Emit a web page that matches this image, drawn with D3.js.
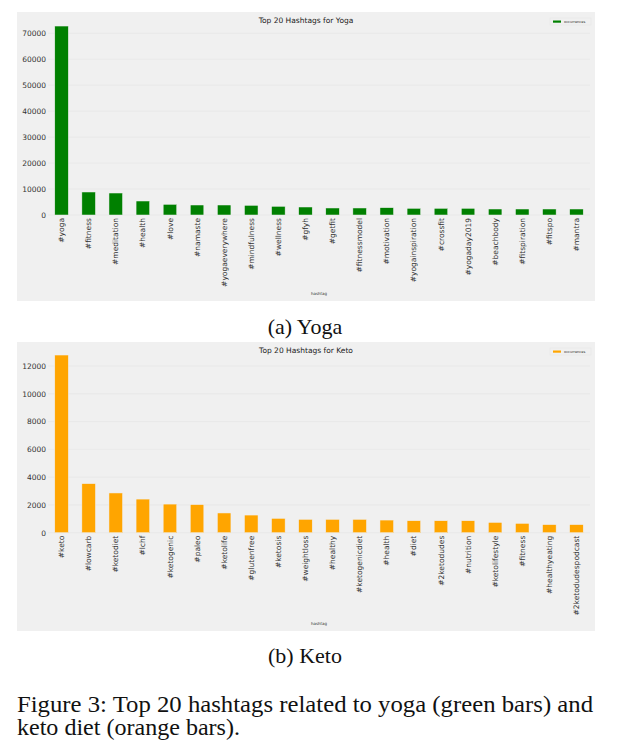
<!DOCTYPE html>
<html>
<head>
<meta charset="utf-8">
<script src="https://cdn.jsdelivr.net/npm/d3@7"></script>
<style>
  body { margin: 0; background: #fff; }
  svg text { font-family: "DejaVu Sans", sans-serif; }
  .cap { font-family: "Liberation Serif", "Times New Roman", serif; fill: #111; }
</style>
</head>
<body>
<div id="chart"></div>
<script>
// yoga hashtags
var yogaTags = ['#yoga', '#fitness', '#meditation', '#health', '#love', '#namaste',
  '#yogaeverywhere', '#mindfulness', '#wellness', '#gfyh', '#getfit', '#fitnessmodel',
  '#motivation', '#yogainspiration', '#crossfit', '#yogaday2019', '#beachbody',
  '#fitspiration', '#fitspo', '#mantra'];
var yogaCounts = [72800, 8860, 8470, 5390, 4110, 3850, 3850, 3720, 3340, 3080, 2700,
  2700, 2820, 2570, 2570, 2570, 2310, 2310, 2310, 2310];
var yogaTicks = [0, 10000, 20000, 30000, 40000, 50000, 60000, 70000];

// keto hashtags
var ketoTags = ['#keto', '#lowcarb', '#ketodiet', '#lchf', '#ketogenic', '#paleo',
  '#ketolife', '#glutenfree', '#ketosis', '#weightloss', '#healthy', '#ketogenicdiet',
  '#health', '#diet', '#2ketodudes', '#nutrition', '#ketolifestyle', '#fitness',
  '#healthyeating', '#2ketodudespodcast'];
var ketoCounts = [12790, 3530, 2860, 2420, 2060, 2020, 1420, 1270, 1030, 960, 960, 960,
  910, 860, 860, 860, 740, 670, 580, 580];
var ketoTicks = [0, 2000, 4000, 6000, 8000, 10000, 12000];

var W = 624, H = 742;

var svg = d3.select("#chart").append("svg")
    .attr("width", W)
    .attr("height", H);

function drawPanel(opts) {
  var g = svg.append("g");

  // gray figure background
  g.append("rect")
    .attr("x", 17).attr("y", opts.top)
    .attr("width", 578).attr("height", opts.bottom - opts.top)
    .attr("fill", "#f0f0f0");

  var x = d3.scaleBand()
    .domain(opts.tags)
    .range([48, 590])
    .paddingInner(0.5)
    .paddingOuter(0.25);

  var y = d3.scaleLinear()
    .domain([0, opts.ticks[opts.ticks.length - 1]])
    .range([opts.zero, opts.topTick]);

  // faint grid
  g.selectAll(".grid")
    .data(opts.ticks)
    .enter().append("line")
    .attr("x1", 48).attr("x2", 590)
    .attr("y1", function (d) { return y(d); })
    .attr("y2", function (d) { return y(d); })
    .attr("stroke", "#e4e4e4")
    .attr("stroke-width", 0.6);

  g.selectAll(".bar")
    .data(opts.counts)
    .enter().append("rect")
    .attr("x", function (d, i) { return x(opts.tags[i]); })
    .attr("width", x.bandwidth())
    .attr("y", function (d) { return y(d); })
    .attr("height", function (d) { return y(0) - y(d); })
    .attr("fill", opts.color)
    .attr("stroke", "#f0f0f0")
    .attr("stroke-width", 0.5);

  var yAxis = g.append("g")
    .attr("transform", "translate(48,0)")
    .call(d3.axisLeft(y).tickValues(opts.ticks).tickSize(0).tickPadding(2).tickFormat(d3.format("d")));
  yAxis.select(".domain").remove();
  yAxis.selectAll("text")
    .attr("font-family", "DejaVu Sans")
    .attr("font-size", 7.5)
    .attr("fill", "#333");

  var xAxis = g.append("g")
    .attr("transform", "translate(0," + opts.zero + ")")
    .call(d3.axisBottom(x).tickSize(0).tickPadding(0));
  xAxis.select(".domain").remove();
  xAxis.selectAll("text")
    .attr("font-family", "DejaVu Sans")
    .attr("font-size", 7.5)
    .attr("fill", "#333")
    .attr("transform", "rotate(-90)")
    .attr("x", -3)
    .attr("y", 0)
    .attr("dy", "0.35em")
    .style("text-anchor", "end");

  // title
  g.append("text")
    .attr("x", 306).attr("y", opts.top + 11)
    .attr("text-anchor", "middle")
    .attr("font-size", 7.5)
    .attr("fill", "#222")
    .text(opts.title);

  // legend
  g.append("rect")
    .attr("x", 550).attr("y", opts.top + 6)
    .attr("width", 41).attr("height", 7)
    .attr("fill", "#f0f0f0")
    .attr("stroke", "#e2e2e2")
    .attr("stroke-width", 0.4);
  g.append("rect")
    .attr("x", 553).attr("y", opts.top + 8.5)
    .attr("width", 8).attr("height", 2.2)
    .attr("fill", opts.color);
  g.append("text")
    .attr("x", 564).attr("y", opts.top + 11)
    .attr("font-size", 3.5)
    .attr("fill", "#333")
    .text("occurrences");

  // x label
  g.append("text")
    .attr("x", 319).attr("y", opts.bottom - 6)
    .attr("text-anchor", "middle")
    .attr("font-size", 4)
    .attr("fill", "#333")
    .text("hashtag");

  // sub caption
  svg.append("text")
    .attr("class", "cap")
    .attr("x", 305).attr("y", opts.caption)
    .attr("text-anchor", "middle")
    .attr("font-size", 22)
    .text(opts.label);
}

drawPanel({
  tags: yogaTags, counts: yogaCounts, ticks: yogaTicks,
  color: "#008000",
  top: 12, bottom: 301, zero: 215, topTick: 33.3,
  title: "Top 20 Hashtags for Yoga",
  label: "(a) Yoga", caption: 334
});

drawPanel({
  tags: ketoTags, counts: ketoCounts, ticks: ketoTicks,
  color: "#ffa500",
  top: 342, bottom: 631, zero: 532.7, topTick: 366,
  title: "Top 20 Hashtags for Keto",
  label: "(b) Keto", caption: 663
});

svg.append("text")
  .attr("class", "cap")
  .attr("x", 17).attr("y", 712)
  .attr("font-size", 23)
  .attr("textLength", 576)
  .attr("lengthAdjust", "spacingAndGlyphs")
  .text("Figure 3: Top 20 hashtags related to yoga (green bars) and");
svg.append("text")
  .attr("class", "cap")
  .attr("x", 17).attr("y", 735)
  .attr("font-size", 23)
  .attr("textLength", 223)
  .attr("lengthAdjust", "spacingAndGlyphs")
  .text("keto diet (orange bars).");
</script>
</body>
</html>
